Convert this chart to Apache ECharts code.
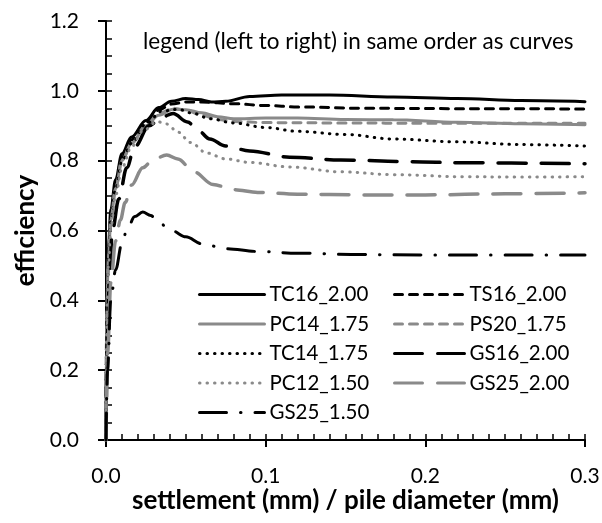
<!DOCTYPE html>
<html>
<head>
<meta charset="utf-8">
<script src="https://cdn.jsdelivr.net/npm/echarts@6/dist/echarts.min.js"></script>
<style>
  html, body { margin: 0; padding: 0; background: #fff; }
  #chart { width: 602px; height: 523px; }
</style>
</head>
<body>
<div id="chart"></div>
<script>
// settlement ratio (x) vs efficiency (y) for each pile group
const TC16_200 = [[0,0],[0.0005,0.4],[0.0015,0.55],[0.003,0.66],[0.006,0.745],[0.01,0.82],[0.016,0.868],[0.025,0.915],[0.033,0.952],[0.041,0.97],[0.05,0.978],[0.058,0.975],[0.066,0.968],[0.075,0.97],[0.09,0.984],[0.11,0.988],[0.14,0.988],[0.18,0.982],[0.22,0.978],[0.26,0.972],[0.3,0.969]];
const TS16_200 = [[0,0],[0.0005,0.38],[0.0015,0.53],[0.003,0.64],[0.006,0.735],[0.01,0.81],[0.016,0.86],[0.025,0.91],[0.033,0.945],[0.041,0.962],[0.05,0.968],[0.06,0.968],[0.08,0.963],[0.1,0.958],[0.12,0.954],[0.16,0.95],[0.22,0.949],[0.3,0.948]];
const PC14_175 = [[0,0],[0.0005,0.38],[0.0015,0.52],[0.003,0.63],[0.006,0.72],[0.01,0.8],[0.016,0.85],[0.025,0.9],[0.033,0.93],[0.042,0.947],[0.05,0.946],[0.06,0.937],[0.07,0.926],[0.08,0.92],[0.1,0.922],[0.12,0.922],[0.15,0.918],[0.18,0.917],[0.22,0.91],[0.26,0.906],[0.3,0.903]];
const PS20_175 = [[0,0],[0.0005,0.37],[0.0015,0.52],[0.003,0.63],[0.006,0.72],[0.01,0.8],[0.016,0.85],[0.025,0.9],[0.033,0.935],[0.042,0.95],[0.05,0.945],[0.06,0.93],[0.07,0.918],[0.08,0.912],[0.1,0.909],[0.15,0.908],[0.2,0.907],[0.3,0.907]];
const TC14_175 = [[0,0],[0.0005,0.37],[0.0015,0.52],[0.003,0.63],[0.006,0.72],[0.01,0.8],[0.016,0.85],[0.025,0.905],[0.035,0.942],[0.045,0.947],[0.055,0.935],[0.065,0.92],[0.08,0.908],[0.1,0.895],[0.12,0.884],[0.15,0.875],[0.18,0.862],[0.22,0.854],[0.26,0.846],[0.3,0.842]];
const GS16_200 = [[0,0],[0.0008,0.3],[0.002,0.45],[0.004,0.6],[0.008,0.69],[0.013,0.78],[0.018,0.84],[0.027,0.9],[0.035,0.925],[0.042,0.935],[0.051,0.911],[0.058,0.885],[0.065,0.862],[0.075,0.842],[0.09,0.828],[0.115,0.81],[0.147,0.802],[0.19,0.797],[0.224,0.794],[0.3,0.791]];
const PC12_150 = [[0,0],[0.0005,0.36],[0.0015,0.5],[0.003,0.61],[0.006,0.7],[0.01,0.78],[0.016,0.84],[0.023,0.885],[0.032,0.912],[0.038,0.905],[0.045,0.882],[0.053,0.852],[0.063,0.822],[0.075,0.805],[0.09,0.795],[0.115,0.782],[0.147,0.768],[0.18,0.76],[0.224,0.754],[0.26,0.753],[0.3,0.754]];
const GS25_200 = [[0,0],[0.001,0.25],[0.003,0.45],[0.006,0.57],[0.009,0.63],[0.012,0.68],[0.016,0.73],[0.023,0.78],[0.03,0.805],[0.038,0.816],[0.045,0.805],[0.055,0.768],[0.067,0.732],[0.08,0.717],[0.095,0.709],[0.12,0.704],[0.16,0.702],[0.2,0.702],[0.25,0.705],[0.3,0.708]];
const GS25_150 = [[0,0],[0.001,0.2],[0.003,0.4],[0.006,0.487],[0.01,0.564],[0.013,0.6],[0.018,0.64],[0.023,0.653],[0.028,0.643],[0.033,0.622],[0.041,0.6],[0.05,0.582],[0.06,0.562],[0.075,0.548],[0.095,0.54],[0.12,0.535],[0.16,0.531],[0.2,0.53],[0.3,0.53]];

const legendLeft = ['TC16_2.00', 'PC14_1.75', 'TC14_1.75', 'PC12_1.50', 'GS25_1.50'];
const legendRight = ['TS16_2.00', 'PS20_1.75', 'GS16_2.00', 'GS25_2.00'];

const BLACK = '#000000';
const GRAY = '#8a8a8a';
const FONT = 'Lato, "Noto Sans", sans-serif';

function line(name, data, color, width, dash) {
  return {
    name: name,
    type: 'line',
    data: data,
    symbol: 'none',
    smooth: 0.35,
    smoothMonotone: 'x',
    lineStyle: { color: color, width: width, type: dash, cap: 'round' },
    itemStyle: { color: color },
    z: 3
  };
}

const chart = echarts.init(document.getElementById('chart'), null, { renderer: 'canvas' });

// legend keys show only the line sample, no marker
const legendCommon = {
  orient: 'vertical',
  itemHeight: 14,
  itemGap: 8.5,
  itemStyle: { opacity: 0 },
  lineStyle: { width: 3, cap: 'round' },
  textStyle: { fontFamily: FONT, fontSize: 20.5, color: '#000' },
  selectedMode: false
};

chart.setOption({
  animation: false,
  backgroundColor: '#fff',
  title: {
    text: 'legend (left to right) in same order as curves',
    left: 138,
    top: 25,
    textStyle: { fontFamily: FONT, fontSize: 22.5, fontWeight: 'normal', color: '#000' }
  },
  grid: { left: 106, right: 17, top: 21, bottom: 83, containLabel: false, outerBoundsMode: 'none' },
  legend: [
    Object.assign({}, legendCommon, { data: legendLeft, left: 193, top: 279, itemWidth: 65 }),
    Object.assign({}, legendCommon, { data: legendRight, left: 388, top: 279, itemWidth: 70 })
  ],
  xAxis: [
    {
      type: 'value', min: 0, max: 0.3, interval: 0.1,
      name: 'settlement (mm) / pile diameter (mm)',
      nameLocation: 'middle', nameGap: 48, nameMoveOverlap: false,
      nameTextStyle: { fontFamily: FONT, fontSize: 26, fontWeight: 'bold', color: '#000' },
      axisLine: { show: true, onZero: false, lineStyle: { color: '#000', width: 2 } },
      axisTick: { show: true, inside: false, length: 7, lineStyle: { color: '#000', width: 2 } },
      axisLabel: { fontFamily: FONT, fontSize: 21, color: '#000', margin: 26, formatter: v => v.toFixed(1) },
      splitLine: { show: false }
    },
    {
      // minor ticks pointing into the plot
      type: 'value', min: 0, max: 0.3, interval: 0.01, position: 'bottom',
      axisLine: { show: false, onZero: false },
      axisTick: { show: true, inside: true, length: 6, lineStyle: { color: '#000', width: 1.5 } },
      axisLabel: { show: false },
      splitLine: { show: false }
    }
  ],
  yAxis: [
    {
      type: 'value', min: 0, max: 1.2, interval: 0.2,
      name: 'efficiency',
      nameLocation: 'middle', nameGap: 67, nameMoveOverlap: false,
      nameTextStyle: { fontFamily: FONT, fontSize: 26, fontWeight: 'bold', color: '#000' },
      axisLine: { show: true, onZero: false, lineStyle: { color: '#000', width: 2 } },
      axisTick: { show: true, inside: false, length: 8, lineStyle: { color: '#000', width: 2 } },
      axisLabel: { fontFamily: FONT, fontSize: 21, color: '#000', margin: 27, formatter: v => v.toFixed(1) },
      splitLine: { show: false }
    },
    {
      type: 'value', min: 0, max: 1.2, interval: 0.05, position: 'left',
      axisLine: { show: false, onZero: false },
      axisTick: { show: true, inside: true, length: 6, lineStyle: { color: '#000', width: 1.5 } },
      axisLabel: { show: false },
      splitLine: { show: false }
    }
  ],
  series: [
    line('TC16_2.00', TC16_200, BLACK, 3, 'solid'),
    line('TS16_2.00', TS16_200, BLACK, 3, [8, 7]),
    line('PC14_1.75', PC14_175, GRAY, 3, 'solid'),
    line('PS20_1.75', PS20_175, GRAY, 3, [8, 7]),
    line('TC14_1.75', TC14_175, BLACK, 3, [0.5, 7]),
    line('GS16_2.00', GS16_200, BLACK, 3.5, [28, 15]),
    line('PC12_1.50', PC12_150, GRAY, 3, [0.5, 7]),
    line('GS25_2.00', GS25_200, GRAY, 3.5, [28, 15]),
    line('GS25_1.50', GS25_150, BLACK, 3, [27, 14, 0.5, 14])
  ]
});
</script>
</body>
</html>
